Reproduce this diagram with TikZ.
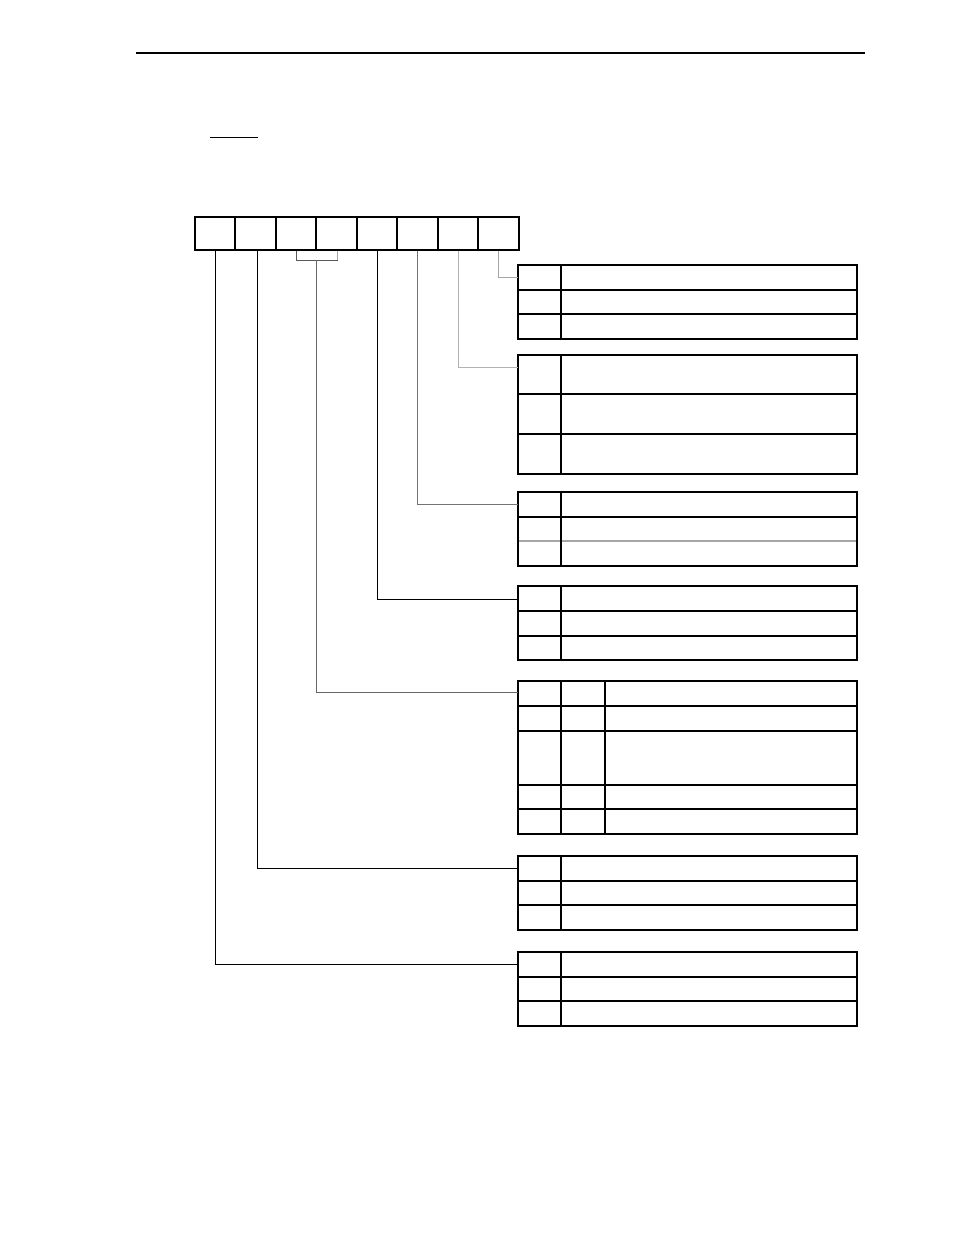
\documentclass[tikz,border=0pt]{standalone}
\usetikzlibrary{calc}
\begin{document}
\begin{tikzpicture}[x=1pt,y=-1pt,
  outer/.style={line width=2pt,draw=black},
  inner/.style={line width=1.4pt,draw=black},
  conn/.style={line width=1pt},
  rule/.style={line width=1.1pt}]
\useasboundingbox (0,0) rectangle (954,1235);
% header rule and short underline
\draw[rule] (136,53) -- (865,53);
\draw[line width=1pt] (210,137) -- (258,137);
% register
\coordinate (regNW) at (195,217);
\coordinate (regSE) at (519,250);
\foreach \xx in {235,276,316,357,397,438,478}
  \draw[inner] (\xx,217) -- (\xx,250);
\draw[outer] (regNW) rectangle (regSE);
% connector sources (bottom centres of bits)
\coordinate (b7) at (215,251);
\coordinate (b6) at (257,251);
\coordinate (b5) at (296,251);
\coordinate (b4) at (337,251);
\coordinate (b3) at (377,251);
\coordinate (b2) at (417,251);
\coordinate (b1) at (458,251);
\coordinate (b0) at (498,251);
\coordinate (b54) at (316,260);
% tables
\newcommand{\regtable}[4]{% top, bottom, rows, extra cols
  \foreach \yy in {#3} \draw[inner] (518,\yy) -- (857,\yy);
  \foreach \xx in {#4} \draw[inner] (\xx,#1) -- (\xx,#2);
  \draw[outer] (518,#1) rectangle (857,#2);}
\regtable{265}{339}{290,314}{561}
\regtable{355}{474}{394,434}{561}
\draw[line width=1.4pt,draw=black!35] (518,541) -- (857,541);
\regtable{492}{566}{517}{561}
\regtable{586}{660}{611,636}{561}
\regtable{681}{834}{706,731,785,809}{561,605}
\regtable{856}{930}{881,905}{561}
\regtable{952}{1026}{977,1001}{561}
% connector targets
\coordinate (t0) at (518,277);
\coordinate (t1) at (518,367);
\coordinate (t2) at (518,504);
\coordinate (t3) at (518,599);
\coordinate (t54) at (518,692);
\coordinate (t6) at (518,868);
\coordinate (t7) at (518,964);
% connectors
\draw[conn,black] (b7) |- (t7);
\draw[conn,black] (b6) |- (t6);
\draw[conn,black!65] (b5) |- (b54);
\draw[conn,black!65] (b54) -| (b4);
\draw[conn,black!35] (b4) -- ($(b4)+(0,9)$);
\draw[conn,black!60] (b54) |- (t54);
\draw[conn,black] (b3) |- (t3);
\draw[conn,black!55] (b2) |- (t2);
\draw[conn,black!30] (b1) |- (t1);
\draw[conn,black!35] (b0) |- (t0);
\end{tikzpicture}
\end{document}
